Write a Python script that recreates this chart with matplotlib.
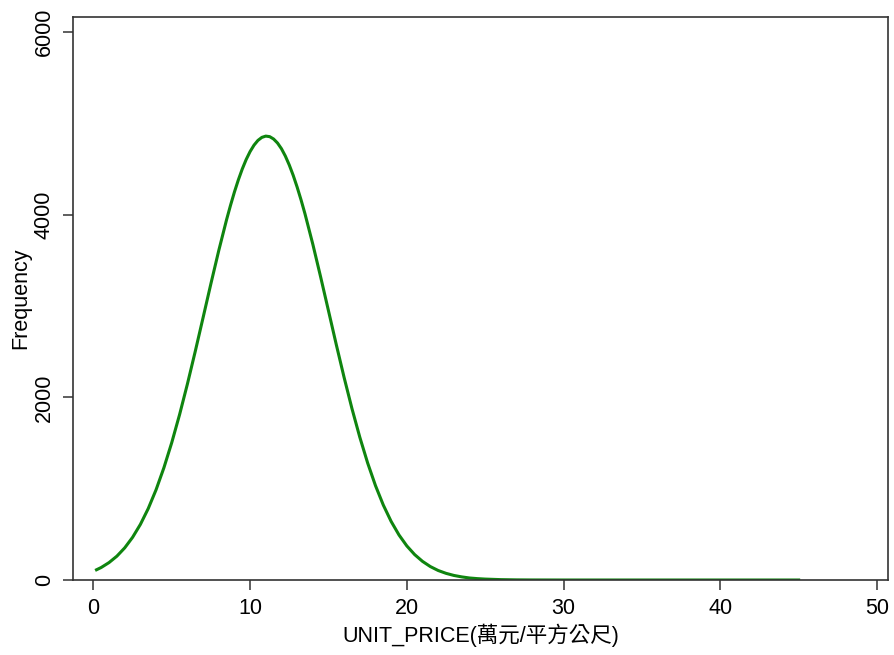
import matplotlib.pyplot as plt

plt.rcParams['font.family'] = ['Liberation Sans', 'Noto Sans CJK TC', 'DejaVu Sans']

# curve values (UNIT_PRICE vs frequency)
price = [0.2, 0.5, 1, 1.5, 2, 2.5, 3, 3.5, 4, 4.5, 5, 5.5, 6, 6.5, 7, 7.5, 8, 8.5,
         8.75, 9, 9.25, 9.5, 9.75, 10, 10.25, 10.5, 10.75, 11, 11.25, 11.5, 11.75,
         12, 12.25, 12.5, 12.75, 13, 13.25, 13.5, 14, 14.5, 15, 15.5, 16,
         16.5, 17, 17.5, 18, 18.5, 19, 19.5, 20, 20.5, 21, 21.5, 22, 22.5, 23,
         23.5, 24, 24.5, 25, 26, 27, 28, 30, 35, 40, 45]
freq = [112, 137, 191, 261, 352, 467, 609, 782, 988, 1229, 1504, 1811, 2146, 2503,
        2873, 3245, 3607, 3946, 4102, 4248, 4381, 4500, 4604, 4691, 4761, 4813,
        4846, 4860, 4854, 4828, 4784, 4722, 4641, 4543, 4430, 4302, 4162, 4010,
        3677, 3318, 2948, 2576, 2216, 1876, 1563, 1281, 1033, 820, 641, 493,
        373, 278, 204, 147, 104, 73, 50, 34, 22, 15, 10, 4, 1.5, 0.5, 0, 0, 0, 0]

xticks = [0, 10, 20, 30, 40, 50]
yticks = [0, 2000, 4000, 6000]

fig = plt.figure(figsize=(8.95, 6.55), dpi=100)
ax = fig.add_axes([73 / 895, 75 / 655, 815 / 895, 563 / 655])

ax.plot(price, freq, color='#0f850f', linewidth=2.2, solid_joinstyle='round')

ax.set_xlim(-1.3, 50.7)
ax.set_ylim(0, 6164)
ax.set_xticks(xticks)
ax.set_yticks(yticks)
ax.tick_params(axis='both', direction='out', length=7, width=1.1, color='#333333',
               labelsize=15.5)
ax.tick_params(axis='x', pad=6)
ax.tick_params(axis='y', pad=6)
for lab in ax.get_yticklabels():
    lab.set_rotation(90)
    lab.set_va('center')

for sp in ax.spines.values():
    sp.set_color('#333333')
    sp.set_linewidth(1.2)

ax.set_xlabel('UNIT_PRICE(萬元/平方公尺)', fontsize=15.5, labelpad=3)
ax.set_ylabel('Frequency', fontsize=15.5, labelpad=2)

fig.savefig('out.png', dpi=100)
